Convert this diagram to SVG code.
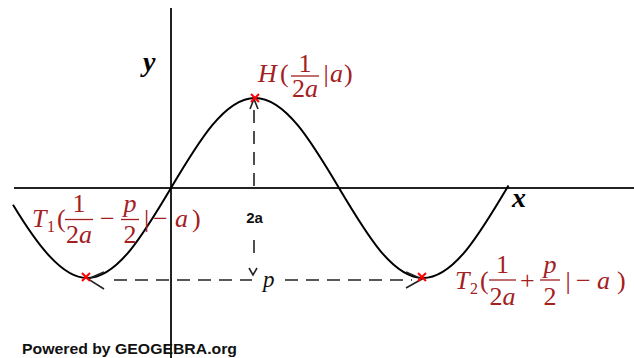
<svg xmlns="http://www.w3.org/2000/svg" width="634" height="358" viewBox="0 0 634 358">
<style>
.ax{stroke:#222;stroke-width:2;fill:none}
.curve{stroke:#000;stroke-width:2;fill:none}
.dash{stroke:#222;stroke-width:1.6;fill:none;stroke-dasharray:13 8}
.arr{stroke:#222;stroke-width:1.6;fill:none}
.pt{stroke:#ff0000;stroke-width:2}
.lbl{font-family:"Liberation Serif",serif;font-size:26px;fill:#a3201f}
.it{font-style:italic}
.sub{font-size:16px}
.bar{stroke:#a3201f;stroke-width:1.3}
.axl{font-family:"Liberation Serif",serif;font-size:28px;font-weight:bold;font-style:italic;fill:#000}
</style>
<rect width="634" height="358" fill="#fff"/>
<g id="axes">
<line class="ax" x1="14" y1="188" x2="634" y2="188"/>
<line class="ax" x1="171" y1="8" x2="171" y2="358"/>
</g>
<g id="graph">
<path class="curve" d="M13 204.7 C37.67 245.49 62.33 278 87 278 C117.4 278 143.58 234.15 171 188 C198.42 141.85 224.6 98 255 98 C285.4 98 311.58 141.85 339 188 C366.42 234.15 392.6 278 423 278 C453.4 278 479.58 234.15 507 188 L508.5 185.5"/>
</g>
<g id="connectors">
<line class="dash" x1="254" y1="110" x2="254" y2="192"/>
<line class="dash" x1="254" y1="240" x2="254" y2="258"/>
<polyline class="arr" points="250,109 254,99 258,109"/>
<polyline class="arr" points="249,268 253,275 257,268"/>
<line class="dash" x1="114" y1="280" x2="252" y2="280"/>
<line class="dash" x1="285" y1="280" x2="412" y2="280"/>
<polyline class="arr" points="104,272 88,279 104,289"/>
<polyline class="arr" points="406,272 422,279 406,288"/>
</g>
<g id="points">
<path class="pt" d="M82 273 L90 281 M90 273 L82 281"/>
<path class="pt" d="M251 94 L259 102 M259 94 L251 102"/>
<path class="pt" d="M418 273 L426 281 M426 273 L418 281"/>
</g>
<g id="label-y"><text class="axl" x="143" y="71">y</text></g>
<g id="label-x"><text class="axl" x="512" y="207">x</text></g>
<g id="label-2a"><text x="254.5" y="223" text-anchor="middle" font-family="Liberation Sans, sans-serif" font-size="15" font-weight="bold" fill="#111">2a</text></g>
<g id="label-p"><text x="263" y="287" font-family="Liberation Serif, serif" font-size="23" font-style="italic" fill="#111">p</text></g>
<g id="label-H">
<text class="lbl it" x="258" y="82">H</text>
<text class="lbl" x="280" y="82">(</text>
<text class="lbl" x="305" y="72" text-anchor="middle">1</text>
<line class="bar" x1="291" y1="76" x2="319" y2="76"/>
<text class="lbl" x="305" y="97" text-anchor="middle">2<tspan class="it">a</tspan></text>
<text class="lbl" x="323.5" y="82">|</text>
<text class="lbl it" x="330" y="82">a</text>
<text class="lbl" x="344" y="82">)</text>
</g>
<g id="label-T1">
<text class="lbl it" x="32" y="227">T</text>
<text class="lbl sub" x="47" y="232">1</text>
<text class="lbl" x="57" y="227">(</text>
<text class="lbl" x="79" y="212" text-anchor="middle">1</text>
<line class="bar" x1="65" y1="219.5" x2="93" y2="219.5"/>
<text class="lbl" x="79" y="243" text-anchor="middle">2<tspan class="it">a</tspan></text>
<text class="lbl" x="100" y="227">−</text>
<text class="lbl it" x="130" y="212" text-anchor="middle">p</text>
<line class="bar" x1="121" y1="219.5" x2="139" y2="219.5"/>
<text class="lbl" x="130" y="243" text-anchor="middle">2</text>
<text class="lbl" x="144" y="227">|</text>
<text class="lbl" x="153" y="227">−</text>
<text class="lbl it" x="175" y="227">a</text>
<text class="lbl" x="192" y="227">)</text>
</g>
<g id="label-T2">
<text class="lbl it" x="455" y="289">T</text>
<text class="lbl sub" x="470" y="294">2</text>
<text class="lbl" x="480" y="289">(</text>
<text class="lbl" x="502.5" y="273" text-anchor="middle">1</text>
<line class="bar" x1="489" y1="280" x2="516" y2="280"/>
<text class="lbl" x="502.5" y="305" text-anchor="middle">2<tspan class="it">a</tspan></text>
<text class="lbl" x="520" y="289">+</text>
<text class="lbl it" x="550" y="273" text-anchor="middle">p</text>
<line class="bar" x1="540" y1="280" x2="560" y2="280"/>
<text class="lbl" x="550" y="305" text-anchor="middle">2</text>
<text class="lbl" x="565.5" y="289">|</text>
<text class="lbl" x="576" y="289">−</text>
<text class="lbl it" x="597" y="289">a</text>
<text class="lbl" x="617" y="289">)</text>
</g>
<g id="credit"><text x="22" y="354" font-family="Liberation Sans, sans-serif" font-size="14" font-weight="bold" fill="#111" textLength="215" lengthAdjust="spacingAndGlyphs">Powered by GEOGEBRA.org</text></g>
</svg>
